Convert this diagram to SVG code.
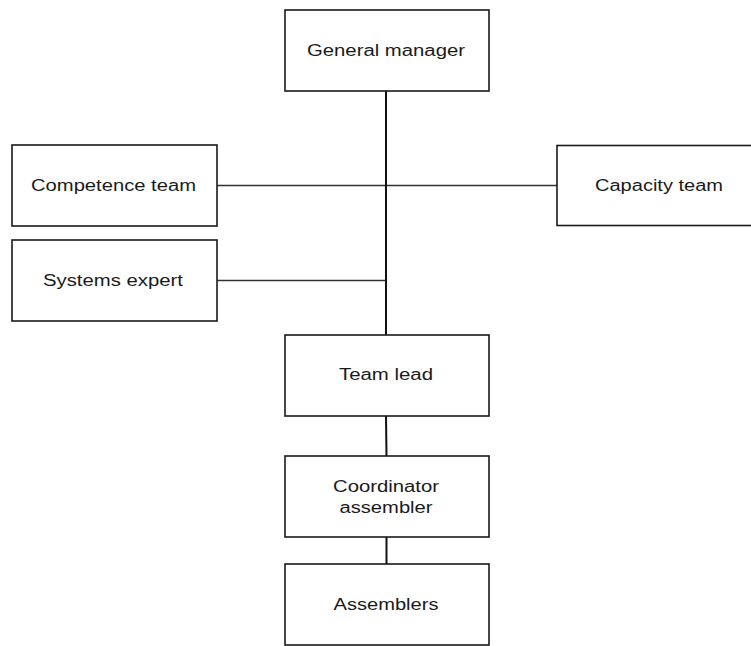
<svg xmlns="http://www.w3.org/2000/svg" width="751" height="646" viewBox="0 0 751 646">
  <style>
    .box { fill: #ffffff; stroke: #1a1a1a; stroke-width: 1.6; }
    .label { font-family: "Liberation Sans", Arial, sans-serif; font-size: 16px; fill: #1a1a1a; text-anchor: middle; }
    .trunk { stroke: #111111; stroke-width: 2; fill: none; }
    .branch { stroke: #333333; stroke-width: 1.3; fill: none; }
  </style>
  <rect x="0" y="0" width="751" height="646" fill="#ffffff"/>

  <!-- reporting lines -->
  <g id="connectors">
    <line class="branch" x1="217" y1="185.5" x2="557" y2="185.5"/>
    <line class="branch" x1="217" y1="280.5" x2="386" y2="280.5"/>
    <line class="trunk" x1="386" y1="91" x2="386" y2="335"/>
    <line class="trunk" x1="386" y1="416" x2="386.5" y2="456"/>
    <line class="trunk" x1="386.5" y1="537" x2="386.5" y2="564"/>
  </g>

  <g id="general-manager">
    <rect class="box" x="285" y="10" width="204" height="81"/>
    <text class="label" x="386" y="56" textLength="158" lengthAdjust="spacingAndGlyphs">General manager</text>
  </g>

  <g id="competence-team">
    <rect class="box" x="12" y="145" width="205" height="81"/>
    <text class="label" x="113.5" y="191" textLength="165" lengthAdjust="spacingAndGlyphs">Competence team</text>
  </g>

  <g id="systems-expert">
    <rect class="box" x="12" y="240" width="205" height="81"/>
    <text class="label" x="113" y="286" textLength="140" lengthAdjust="spacingAndGlyphs">Systems expert</text>
  </g>

  <g id="capacity-team">
    <rect class="box" x="557" y="145.5" width="210" height="80"/>
    <text class="label" x="659" y="191" textLength="128" lengthAdjust="spacingAndGlyphs">Capacity team</text>
  </g>

  <g id="team-lead">
    <rect class="box" x="285" y="335" width="204" height="81"/>
    <text class="label" x="386" y="380" textLength="94" lengthAdjust="spacingAndGlyphs">Team lead</text>
  </g>

  <g id="coordinator-assembler">
    <rect class="box" x="285" y="456" width="204" height="81"/>
    <text class="label" x="386" y="492" textLength="106" lengthAdjust="spacingAndGlyphs">Coordinator</text>
    <text class="label" x="386" y="513" textLength="93" lengthAdjust="spacingAndGlyphs">assembler</text>
  </g>

  <g id="assemblers">
    <rect class="box" x="285" y="564" width="204" height="81"/>
    <text class="label" x="386" y="610" textLength="105" lengthAdjust="spacingAndGlyphs">Assemblers</text>
  </g>
</svg>
